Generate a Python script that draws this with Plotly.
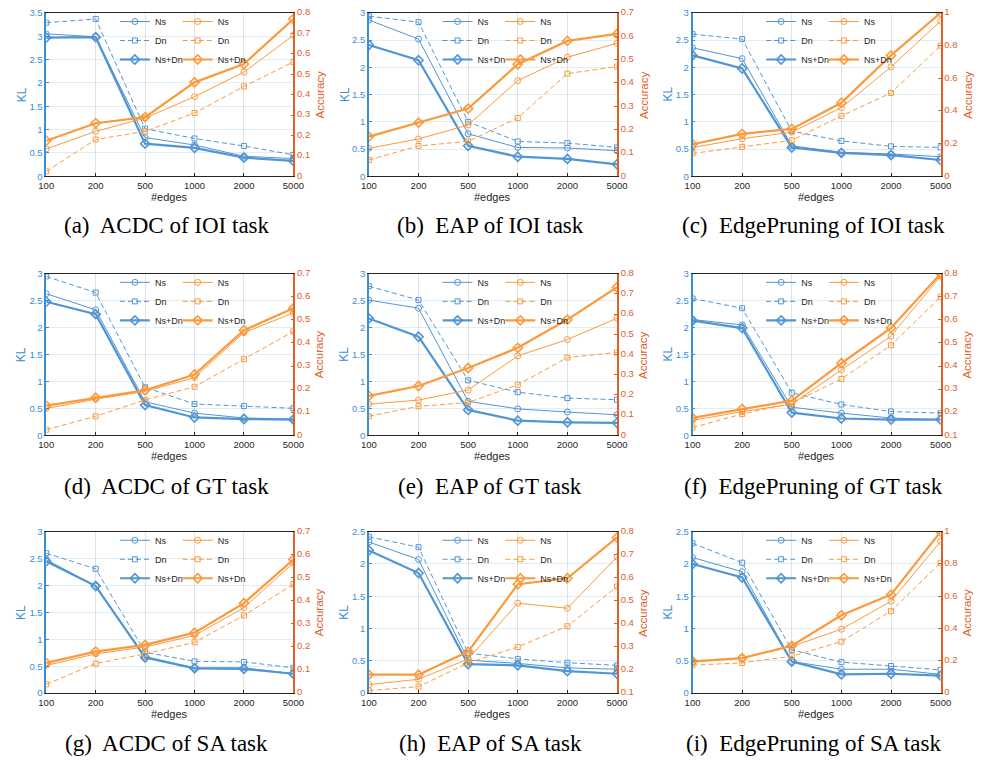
import plotly.graph_objects as go

# ---------------- data ----------------
x_labels = ["100", "200", "500", "1000", "2000", "5000"]

# (a) ACDC of IOI task
acdc_ioi_kl_ns = [3.05, 2.99, 0.83, 0.67, 0.43, 0.38]
acdc_ioi_kl_dn = [3.29, 3.37, 1.02, 0.81, 0.65, 0.46]
acdc_ioi_kl_nsdn = [2.97, 2.98, 0.70, 0.61, 0.40, 0.33]
acdc_ioi_acc_ns = [0.134, 0.22, 0.285, 0.39, 0.51, 0.69]
acdc_ioi_acc_dn = [0.024, 0.18, 0.22, 0.31, 0.44, 0.56]
acdc_ioi_acc_nsdn = [0.174, 0.26, 0.29, 0.46, 0.55, 0.77]

# (b) EAP of IOI task
eap_ioi_kl_ns = [2.87, 2.52, 0.78, 0.53, 0.52, 0.47]
eap_ioi_kl_dn = [2.94, 2.83, 1.00, 0.64, 0.61, 0.53]
eap_ioi_kl_nsdn = [2.41, 2.13, 0.56, 0.36, 0.32, 0.22]
eap_ioi_acc_ns = [0.12, 0.16, 0.22, 0.41, 0.51, 0.57]
eap_ioi_acc_dn = [0.07, 0.13, 0.15, 0.25, 0.44, 0.47]
eap_ioi_acc_nsdn = [0.17, 0.23, 0.29, 0.48, 0.58, 0.61]

# (c) EdgePruning of IOI task
ep_ioi_kl_ns = [2.36, 2.16, 0.56, 0.44, 0.41, 0.36]
ep_ioi_kl_dn = [2.61, 2.52, 0.83, 0.65, 0.55, 0.53]
ep_ioi_kl_nsdn = [2.22, 1.98, 0.53, 0.43, 0.39, 0.30]
ep_ioi_acc_ns = [0.176, 0.23, 0.27, 0.42, 0.67, 0.95]
ep_ioi_acc_dn = [0.14, 0.18, 0.22, 0.37, 0.51, 0.80]
ep_ioi_acc_nsdn = [0.196, 0.26, 0.29, 0.45, 0.74, 1.0]

# (d) ACDC of GT task
acdc_gt_kl_ns = [2.63, 2.33, 0.62, 0.41, 0.32, 0.30]
acdc_gt_kl_dn = [2.95, 2.65, 0.89, 0.58, 0.54, 0.50]
acdc_gt_kl_nsdn = [2.48, 2.25, 0.56, 0.33, 0.30, 0.29]
acdc_gt_acc_ns = [0.116, 0.156, 0.19, 0.25, 0.445, 0.53]
acdc_gt_acc_dn = [0.024, 0.082, 0.153, 0.21, 0.33, 0.45]
acdc_gt_acc_nsdn = [0.128, 0.163, 0.195, 0.263, 0.455, 0.55]

# (e) EAP of GT task
eap_gt_kl_ns = [2.51, 2.36, 0.63, 0.49, 0.43, 0.38]
eap_gt_kl_dn = [2.77, 2.51, 1.02, 0.80, 0.69, 0.66]
eap_gt_kl_nsdn = [2.17, 1.83, 0.47, 0.27, 0.24, 0.23]
eap_gt_acc_ns = [0.154, 0.174, 0.224, 0.393, 0.474, 0.58]
eap_gt_acc_dn = [0.094, 0.143, 0.162, 0.25, 0.385, 0.41]
eap_gt_acc_nsdn = [0.195, 0.244, 0.333, 0.433, 0.573, 0.733]

# (f) EdgePruning of GT task
ep_gt_kl_ns = [2.15, 2.05, 0.52, 0.41, 0.32, 0.29]
ep_gt_kl_dn = [2.54, 2.36, 0.79, 0.57, 0.44, 0.41]
ep_gt_kl_nsdn = [2.13, 1.99, 0.42, 0.31, 0.29, 0.29]
ep_gt_acc_ns = [0.164, 0.202, 0.235, 0.384, 0.53, 0.79]
ep_gt_acc_dn = [0.133, 0.192, 0.238, 0.344, 0.49, 0.70]
ep_gt_acc_nsdn = [0.175, 0.214, 0.25, 0.412, 0.565, 0.80]

# (g) ACDC of SA task
acdc_sa_kl_ns = [2.48, 1.99, 0.68, 0.47, 0.47, 0.36]
acdc_sa_kl_dn = [2.60, 2.31, 0.76, 0.59, 0.58, 0.47]
acdc_sa_kl_nsdn = [2.45, 1.99, 0.66, 0.46, 0.45, 0.36]
acdc_sa_acc_ns = [0.12, 0.17, 0.20, 0.25, 0.37, 0.565]
acdc_sa_acc_dn = [0.038, 0.128, 0.17, 0.22, 0.337, 0.472]
acdc_sa_acc_nsdn = [0.131, 0.18, 0.209, 0.262, 0.39, 0.579]

# (h) EAP of SA task
eap_sa_kl_ns = [2.34, 2.07, 0.51, 0.46, 0.39, 0.37]
eap_sa_kl_dn = [2.42, 2.26, 0.62, 0.53, 0.47, 0.43]
eap_sa_kl_nsdn = [2.21, 1.86, 0.45, 0.43, 0.34, 0.30]
eap_sa_acc_ns = [0.137, 0.16, 0.248, 0.49, 0.468, 0.69]
eap_sa_acc_dn = [0.111, 0.128, 0.231, 0.30, 0.39, 0.562]
eap_sa_acc_nsdn = [0.18, 0.18, 0.28, 0.572, 0.598, 0.775]

# (i) EdgePruning of SA task
ep_sa_kl_ns = [2.10, 1.88, 0.49, 0.37, 0.37, 0.29]
ep_sa_kl_dn = [2.32, 2.02, 0.67, 0.48, 0.42, 0.36]
ep_sa_kl_nsdn = [2.00, 1.79, 0.49, 0.29, 0.30, 0.27]
ep_sa_acc_ns = [0.193, 0.217, 0.289, 0.396, 0.569, 0.94]
ep_sa_acc_dn = [0.173, 0.187, 0.228, 0.319, 0.508, 0.807]
ep_sa_acc_nsdn = [0.197, 0.217, 0.293, 0.482, 0.61, 1.0]

captions = [
    "(a)  ACDC of IOI task", "(b)  EAP of IOI task", "(c)  EdgePruning of IOI task",
    "(d)  ACDC of GT task", "(e)  EAP of GT task", "(f)  EdgePruning of GT task",
    "(g)  ACDC of SA task", "(h)  EAP of SA task", "(i)  EdgePruning of SA task",
]
kl_ranges = [[0, 3.5], [0, 3], [0, 3], [0, 3], [0, 3], [0, 3], [0, 3], [0, 2.5], [0, 2.5]]
acc_ranges = [[0, 0.8], [0, 0.7], [0, 1], [0, 0.7], [0, 0.8], [0.1, 0.8], [0, 0.7], [0.1, 0.8], [0, 1]]
acc_dticks = [0.1, 0.1, 0.2, 0.1, 0.1, 0.1, 0.1, 0.1, 0.2]

panels = [
    (acdc_ioi_kl_ns, acdc_ioi_kl_dn, acdc_ioi_kl_nsdn, acdc_ioi_acc_ns, acdc_ioi_acc_dn, acdc_ioi_acc_nsdn),
    (eap_ioi_kl_ns, eap_ioi_kl_dn, eap_ioi_kl_nsdn, eap_ioi_acc_ns, eap_ioi_acc_dn, eap_ioi_acc_nsdn),
    (ep_ioi_kl_ns, ep_ioi_kl_dn, ep_ioi_kl_nsdn, ep_ioi_acc_ns, ep_ioi_acc_dn, ep_ioi_acc_nsdn),
    (acdc_gt_kl_ns, acdc_gt_kl_dn, acdc_gt_kl_nsdn, acdc_gt_acc_ns, acdc_gt_acc_dn, acdc_gt_acc_nsdn),
    (eap_gt_kl_ns, eap_gt_kl_dn, eap_gt_kl_nsdn, eap_gt_acc_ns, eap_gt_acc_dn, eap_gt_acc_nsdn),
    (ep_gt_kl_ns, ep_gt_kl_dn, ep_gt_kl_nsdn, ep_gt_acc_ns, ep_gt_acc_dn, ep_gt_acc_nsdn),
    (acdc_sa_kl_ns, acdc_sa_kl_dn, acdc_sa_kl_nsdn, acdc_sa_acc_ns, acdc_sa_acc_dn, acdc_sa_acc_nsdn),
    (eap_sa_kl_ns, eap_sa_kl_dn, eap_sa_kl_nsdn, eap_sa_acc_ns, eap_sa_acc_dn, eap_sa_acc_nsdn),
    (ep_sa_kl_ns, ep_sa_kl_dn, ep_sa_kl_nsdn, ep_sa_acc_ns, ep_sa_acc_dn, ep_sa_acc_nsdn),
]

# ---------------- style / layout ----------------
W, H = 984, 768
BLUE = "#5295D3"
ORANGE = "#FB9A3C"
BLUE_AX = "#3C8ED2"
ORANGE_AX = "#DE6029"
DARK = "#262626"
SANS = "Liberation Sans, Arial, Helvetica, sans-serif"
SERIF = "Liberation Serif, Times New Roman, serif"

col_px = [(39, 291), (368, 621), (698, 951)]
row_px = [(6, 172), (271, 435), (533, 697)]
caption_y = [222, 487, 748]


def fx(px):
    return px / W


def fy(py):
    return 1 - py / H


fig = go.Figure()
layout = dict(
    width=W, height=H, margin=dict(l=0, r=0, t=0, b=0),
    paper_bgcolor="white", plot_bgcolor="white", showlegend=True,
    font=dict(family=SANS, color=DARK, size=10),
)
annotations = []

styles = [
    ("Ns", dict(width=1), dict(symbol="circle-open", size=6, line=dict(width=1))),
    ("Dn", dict(width=1, dash="5px,3px"), dict(symbol="square-open", size=5, line=dict(width=1))),
    ("Ns+Dn", dict(width=2.2), dict(symbol="diamond-open", size=7, line=dict(width=1.6))),
]

for k, series in enumerate(panels):
    r, c = divmod(k, 3)
    L, R = col_px[c]
    T, B = row_px[r]
    xi = k + 1
    yl = 2 * k + 1
    yr = 2 * k + 2
    xname = "x" if xi == 1 else f"x{xi}"
    ylname = "y" if yl == 1 else f"y{yl}"
    yrname = f"y{yr}"
    leg_b = "legend" if k == 0 else f"legend{2 * k + 1}"
    leg_o = f"legend{2 * k + 2}"

    for j, (name, line, marker) in enumerate(styles):
        fig.add_trace(go.Scatter(
            x=x_labels, y=series[j], xaxis=xname, yaxis=ylname, name=name,
            mode="lines+markers", line=dict(color=BLUE, **line),
            marker=dict(color=BLUE, **marker), legend=leg_b,
        ))
    for j, (name, line, marker) in enumerate(styles):
        fig.add_trace(go.Scatter(
            x=x_labels, y=series[3 + j], xaxis=xname, yaxis=yrname, name=name,
            mode="lines+markers", line=dict(color=ORANGE, **line),
            marker=dict(color=ORANGE, **marker), legend=leg_o,
        ))

    xkey = "xaxis" if xi == 1 else f"xaxis{xi}"
    ylkey = "yaxis" if yl == 1 else f"yaxis{yl}"
    yrkey = f"yaxis{yr}"
    layout[xkey] = dict(
        domain=[fx(L), fx(R)], anchor=ylname, type="category", range=[0, 5],
        showgrid=True, gridcolor="rgba(0,0,0,0.11)", gridwidth=1,
        showline=True, mirror=True, linecolor=DARK, linewidth=1,
        ticks="inside", ticklen=3, tickcolor=DARK,
        tickfont=dict(size=9.5, color=DARK, family=SANS), zeroline=False,
    )
    layout[ylkey] = dict(
        domain=[fy(B), fy(T)], anchor=xname, range=kl_ranges[k], dtick=0.5,
        showgrid=True, gridcolor="rgba(0,114,189,0.13)", gridwidth=1,
        showline=True, linecolor=BLUE_AX, linewidth=1.5,
        ticks="inside", ticklen=3, tickcolor=BLUE_AX,
        tickfont=dict(size=9.5, color=BLUE_AX, family=SANS), zeroline=False,
    )
    layout[yrkey] = dict(
        overlaying=ylname, side="right", anchor=xname,
        range=acc_ranges[k], dtick=acc_dticks[k], showgrid=False,
        showline=True, linecolor=ORANGE_AX, linewidth=1.5,
        ticks="inside", ticklen=3, tickcolor=ORANGE_AX, ticklabelshift=-1,
        tickfont=dict(size=9.5, color=ORANGE_AX, family=SANS), zeroline=False,
    )
    leg_common = dict(
        xanchor="left", yanchor="top", y=fy(T - 6), orientation="v",
        bgcolor="rgba(0,0,0,0)", borderwidth=0, itemwidth=30, tracegroupgap=0,
        font=dict(size=9, color=DARK, family=SANS),
    )
    layout[leg_b] = dict(x=fx(L + 70), **leg_common)
    layout[leg_o] = dict(x=fx(L + 134), **leg_common)

    cx = (L + R) / 2
    annotations.append(dict(text="#edges", x=fx(cx), y=fy(B + 21), xref="paper", yref="paper",
                            xanchor="center", yanchor="middle", showarrow=False,
                            font=dict(size=11, color=DARK, family=SANS)))
    annotations.append(dict(text="KL", x=fx(L - 25), y=fy((T + B) / 2), xref="paper", yref="paper",
                            xanchor="center", yanchor="middle", showarrow=False, textangle=-90,
                            font=dict(size=12, color=BLUE_AX, family=SANS)))
    annotations.append(dict(text="Accuracy", x=fx(R + 27), y=fy((T + B) / 2), xref="paper", yref="paper",
                            xanchor="center", yanchor="middle", showarrow=False, textangle=-90,
                            font=dict(size=11.5, color=ORANGE_AX, family=SANS)))
    annotations.append(dict(text=captions[k].replace("  ", "\u00a0 "), x=fx(cx - 3), y=fy(caption_y[r]),
                            xref="paper", yref="paper", xanchor="center", yanchor="middle",
                            showarrow=False, font=dict(size=23, color="black", family=SERIF)))

layout["annotations"] = annotations
fig.update_layout(**layout)
fig.write_html("out.html")
